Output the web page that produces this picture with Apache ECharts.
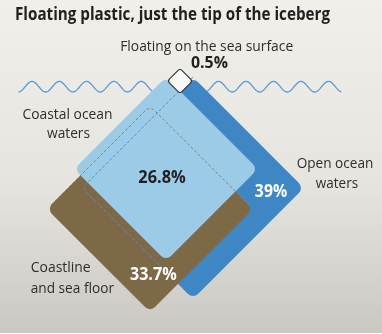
<!DOCTYPE html>
<html>
<head>
<meta charset="utf-8">
<script src="https://cdn.jsdelivr.net/npm/echarts@6/dist/echarts.min.js"></script>
<style>
  html, body { margin: 0; padding: 0; }
  #chart { width: 382px; height: 334px; }
</style>
</head>
<body>
<div id="chart"></div>
<script>
// Where marine plastic ends up, share of the total (%)
const categories = ['Open ocean waters', 'Coastline and sea floor', 'Coastal ocean waters', 'Floating on the sea surface'];
const shares = [39, 33.7, 26.8, 0.5];

// ---- layout (pixel space) ----
const centers = [[193, 188], [150, 209], [166, 169], [180, 81]];
const fills = ['#3e86c4', '#7e6946', '#9ccbe8', '#f8f8f7'];
const SIDE_PER_ROOT = 25.1;   // square side = k * sqrt(share)
const CORNER = 7;
const FONT = '"Open Sans", "Noto Sans", sans-serif';

const measureCtx = document.createElement('canvas').getContext('2d');
function fitScale(text, font, width) {
  measureCtx.font = font;
  const w = measureCtx.measureText(text).width;
  return w > 0 ? width / w : 1;
}

// text blocks: [text, x, y, align, weight, size, colour, target width]
const pct = v => v + '%';
const textBlocks = [
  ['Floating plastic, just the tip of the iceberg', 15, 15, 'left', 'bold', 17, '#231f20', 315],
  ['Floating on the sea surface', 206.7, 47, 'center', 'normal', 15, '#2e2d2c', 173],
  [pct(shares[3]), 209.5, 63.3, 'center', 'bold', 16, '#231f20', 37],
  ['Coastal ocean', 67.5, 114.5, 'center', 'normal', 15, '#2e2d2c', 90],
  ['waters', 68.5, 133.5, 'center', 'normal', 15, '#2e2d2c', 43],
  [pct(shares[2]), 162, 178, 'center', 'bold', 17, '#231f20', 47.4],
  ['Open ocean', 335, 163.5, 'center', 'normal', 15, '#2e2d2c', 76.7],
  ['waters', 337, 183.5, 'center', 'normal', 15, '#2e2d2c', 42.3],
  [pct(shares[0]), 271, 192, 'center', 'bold', 17, '#ffffff', 32.3],
  ['Coastline', 30.7, 268, 'left', 'normal', 15, '#2e2d2c', 60],
  ['and sea floor', 30.7, 288.5, 'left', 'normal', 15, '#2e2d2c', 83.3],
  [pct(shares[1]), 153.3, 275.5, 'center', 'bold', 17, '#ffffff', 46.7]
];

function wavePoints(x0, x1, firstPeak, period, midY, amp) {
  const pts = [];
  for (let x = x0; x <= x1; x += 0.5) {
    pts.push([x, midY - amp * Math.cos(2 * Math.PI * (x - firstPeak) / period)]);
  }
  return pts;
}

const graphics = [
  { type: 'rect', z: -10, silent: true, shape: { x: 0, y: 0, width: 382, height: 333 },
    style: { fill: new echarts.graphic.LinearGradient(0, 0, 0, 1, [
      { offset: 0, color: '#f1efe9' }, { offset: 0.55, color: '#e6e4de' }, { offset: 1, color: '#c9c8c2' }]) } },
  { type: 'rect', z: -10, silent: true, shape: { x: 0, y: 333, width: 382, height: 1 }, style: { fill: '#fbfbfb' } },
  { type: 'polyline', z: 0, silent: true, shape: { points: wavePoints(18.5, 176, 32, 27.3, 86.7, 5.3) },
    style: { stroke: '#5a9ad2', lineWidth: 1.3, fill: null } },
  { type: 'polyline', z: 0, silent: true, shape: { points: wavePoints(188, 341.5, 218.5, 27.5, 86.7, 5.3) },
    style: { stroke: '#5a9ad2', lineWidth: 1.3, fill: null } }
];
textBlocks.forEach(([text, x, y, align, weight, size, color, width]) => {
  const font = weight + ' ' + size + 'px ' + FONT;
  graphics.push({
    type: 'text', x, y, z: 100, silent: true,
    scaleX: fitScale(text, font, width),
    style: { text, x: 0, y: 0, font, fill: color, textAlign: align, align, textVerticalAlign: 'middle', verticalAlign: 'middle' }
  });
});

const diamondData = shares.map((v, i) => ({ name: categories[i], value: [centers[i][0], centers[i][1], v, i] }));

function sideOf(api) {
  return api.size([SIDE_PER_ROOT * Math.sqrt(api.value(2)), 0])[0];
}

function renderDiamond(params, api) {
  const c = api.coord([api.value(0), api.value(1)]);
  const idx = api.value(3);
  const side = sideOf(api);
  const tip = idx === 3;
  return {
    type: 'rect', x: c[0], y: c[1], rotation: Math.PI / 4,
    shape: { x: -side / 2, y: -side / 2, width: side, height: side, r: tip ? 3 : CORNER },
    style: { fill: fills[idx], stroke: tip ? '#2f2f2f' : null, lineWidth: tip ? 1.1 : 0 }
  };
}

// hidden edges of the two larger diamonds, traced as dashed lines
const hiddenEdges = {
  0: { path: ['top', 'left', 'bottom'], from: 0, to: 0.82, color: '#4f90cd' },
  1: { path: ['left', 'top', 'right'], from: 0.04, to: 0.96, color: '#8d8473' }
};
const DIRS = { top: [0, -1], left: [-1, 0], bottom: [0, 1], right: [1, 0] };

function renderEdges(params, api) {
  const c = api.coord([api.value(0), api.value(1)]);
  const idx = api.value(3);
  const spec = hiddenEdges[idx];
  const h = sideOf(api) / Math.SQRT2;
  const [S, C, E] = spec.path.map(k => [c[0] + DIRS[k][0] * h, c[1] + DIRS[k][1] * h]);
  const lerp = (a, b, t) => [a[0] + (b[0] - a[0]) * t, a[1] + (b[1] - a[1]) * t];
  const edgeLen = h * Math.SQRT2;
  const rt = CORNER / edgeLen;
  const p0 = lerp(C, S, rt), p2 = lerp(C, E, rt);
  const pts = [lerp(S, C, spec.from), p0];
  for (let k = 1; k < 8; k++) {
    const t = k / 8;
    pts.push([
      (1 - t) * (1 - t) * p0[0] + 2 * (1 - t) * t * C[0] + t * t * p2[0],
      (1 - t) * (1 - t) * p0[1] + 2 * (1 - t) * t * C[1] + t * t * p2[1]
    ]);
  }
  pts.push(p2, lerp(C, E, spec.to));
  return {
    type: 'polyline', shape: { points: pts },
    style: { stroke: spec.color, lineWidth: 1, lineDash: [3, 2], fill: null }
  };
}

const chart = echarts.init(document.getElementById('chart'), null, { renderer: 'canvas' });
chart.setOption({
  animation: false,
  grid: { left: 0, right: 0, top: 0, bottom: 0 },
  xAxis: { type: 'value', min: 0, max: 382, show: false },
  yAxis: { type: 'value', min: 0, max: 334, inverse: true, show: false },
  graphic: { elements: graphics },
  series: [
    { type: 'custom', name: 'shares', z: 2, silent: true, renderItem: renderDiamond,
      data: diamondData.slice(0, 3) },
    { type: 'custom', name: 'hidden edges', z: 3, silent: true, renderItem: renderEdges,
      data: diamondData.slice(0, 2) },
    { type: 'custom', name: 'tip', z: 4, silent: true, renderItem: renderDiamond,
      data: diamondData.slice(3) }
  ]
});
</script>
</body>
</html>
